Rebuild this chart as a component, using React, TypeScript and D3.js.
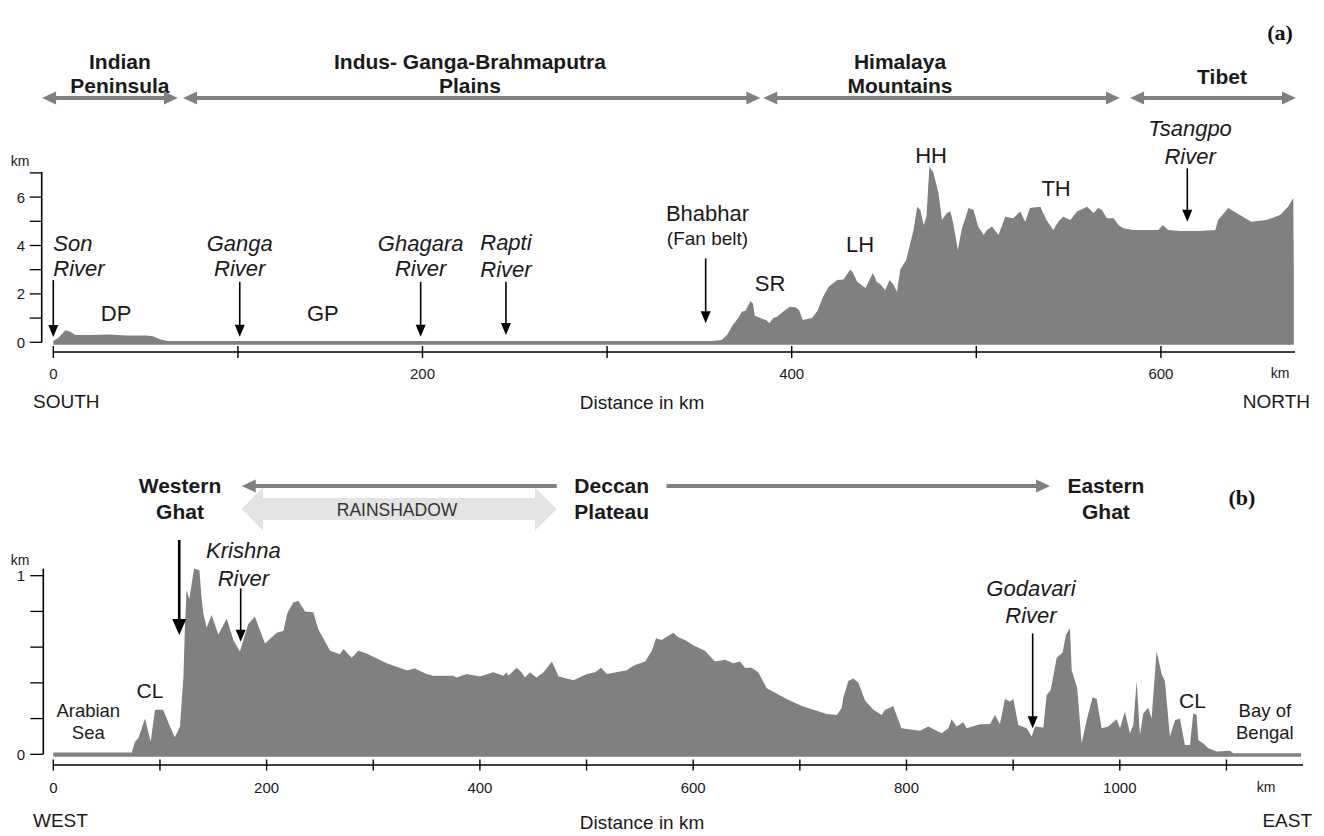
import React from "react";
import * as d3 from "d3";

// ---------- Panel (a): South–North profile ----------
const topDistance = [0, 3, 6.5, 9, 12, 20, 30, 40, 50, 54, 58, 62, 100, 200, 300, 357, 362, 365, 368, 371, 373, 375, 377.6, 379, 380, 383, 386, 388, 390, 392, 396, 399, 402, 404, 406, 411, 414, 417, 420, 424.7, 428, 431.7, 433, 435.5, 440, 444, 446, 448, 450.7, 453, 455, 457, 458.8, 462, 466, 468, 469.7, 471.5, 473, 474.6, 476.8, 479.5, 481.4, 484, 486, 487.5, 490, 492, 495.8, 498.5, 501, 504, 505.8, 508.5, 512, 515.7, 520, 523.8, 526.5, 529, 534.7, 538, 541.7, 544.4, 547, 551, 554.5, 560, 563.5, 566, 568, 570.8, 574.4, 577, 579.7, 585, 592.4, 598.6, 601, 604, 610.5, 621, 629.5, 631, 636.5, 641, 649, 657, 664.6, 668.9, 671.7, 672];
const topElevation = [0.05, 0.2, 0.5, 0.45, 0.3, 0.3, 0.32, 0.28, 0.28, 0.25, 0.12, 0.05, 0.05, 0.05, 0.05, 0.05, 0.1, 0.3, 0.7, 1.0, 1.26, 1.3, 1.7, 1.6, 1.1, 1.0, 0.92, 0.8, 1.0, 1.06, 1.3, 1.47, 1.45, 1.33, 0.92, 1.0, 1.3, 1.88, 2.3, 2.57, 2.6, 3.0, 2.9, 2.5, 2.24, 2.86, 2.5, 2.4, 2.16, 2.57, 2.4, 2.09, 3.0, 3.4, 4.64, 5.6, 5.47, 4.85, 5.2, 7.26, 7.0, 6.17, 5.05, 5.34, 5.4, 4.92, 3.81, 4.64, 5.55, 5.47, 4.78, 4.43, 4.64, 4.78, 4.43, 5.19, 5.13, 5.4, 4.98, 5.55, 5.6, 5.05, 4.64, 4.98, 5.19, 5.05, 5.4, 5.6, 5.34, 5.55, 5.47, 5.13, 5.13, 4.85, 4.71, 4.64, 4.64, 4.64, 4.85, 4.64, 4.6, 4.6, 4.64, 5.05, 5.55, 5.34, 4.98, 5.05, 5.26, 5.6, 5.96, 3.0];
const topXTicks = [0, 100, 200, 300, 400, 500, 600];
const topXLabels = [0, 200, 400, 600];
const topYTicks = [0, 1, 2, 3, 4, 5, 6, 7];
const topYLabels = [0, 2, 4, 6];

// header regions (km positions along the top profile)
const topRegionNames = [["Indian", "Peninsula"], ["Indus- Ganga-Brahmaputra", "Plains"], ["Himalaya", "Mountains"], ["Tibet"]];
const topRegionCenters = [36.1, 225.7, 458.7, 633.1];
const topRegionStarts = [-6.1, 70.3, 384.6, 583.3];
const topRegionEnds = [67.5, 383, 577.8, 673.2];

// rivers / features with arrows
const topArrowKm = [0, 101, 199, 245.2, 353.4, 614.3];
const topArrowFrom = [2.57, 2.5, 2.5, 2.5, 3.47, 7.19];
const topArrowTo = [0.22, 0.23, 0.23, 0.3, 0.79, 4.98];

// ---------- Panel (b): West–East profile ----------
const botDistance = [0, 73.5, 76.6, 79.7, 86, 91.3, 95.4, 103, 109.4, 114, 118.8, 120.4, 122, 123.5, 125, 127.5, 132, 137, 139, 140.6, 143.8, 148.5, 154.8, 162.6, 168.8, 175, 182.8, 189, 198.5, 209.5, 215.7, 219.4, 225, 229.7, 236, 243.8, 248.5, 259.5, 268.8, 272, 279.8, 286, 293.8, 312.5, 331.3, 339, 350, 356.3, 375, 378.2, 387.6, 400, 412.6, 422, 425, 426.6, 434.5, 439, 442.3, 447, 453, 459.7, 467.5, 473.8, 487.8, 500.3, 508, 513.7, 519, 537.8, 542.4, 545.5, 555, 561.2, 565.2, 570.4, 581.4, 586, 592.3, 600, 611, 620.4, 629.8, 637.6, 643.9, 648.6, 654.8, 661, 669, 687.7, 701.8, 725.2, 734.6, 739.3, 740.8, 745.5, 750.2, 754.9, 761.2, 769, 776.8, 779.9, 784.6, 787.5, 795.3, 812.6, 820.4, 833, 839.2, 842.3, 847, 853.3, 856.4, 868.9, 878.3, 883, 887.6, 892.3, 897, 900.2, 904.8, 912.7, 917.4, 920.5, 928.3, 931.4, 935.2, 937.6, 940.8, 946.4, 949.5, 953.3, 954.9, 960.1, 964.2, 968.9, 974.5, 978.3, 983, 989.2, 997, 1000.2, 1004.8, 1009.5, 1012.6, 1015.8, 1018.9, 1022, 1026.7, 1029.8, 1034.5, 1039.2, 1042.3, 1047, 1051.7, 1056.4, 1061, 1065.8, 1068.9, 1072, 1073.6, 1078.3, 1083, 1090.8, 1103.3, 1106.4, 1170];
const botElevation = [0.01, 0.01, 0.07, 0.09, 0.2, 0.07, 0.25, 0.25, 0.155, 0.095, 0.155, 0.3, 0.43, 0.73, 0.92, 0.87, 1.04, 1.03, 0.88, 0.79, 0.71, 0.78, 0.67, 0.76, 0.64, 0.575, 0.73, 0.77, 0.62, 0.68, 0.69, 0.79, 0.85, 0.86, 0.8, 0.795, 0.7, 0.58, 0.56, 0.59, 0.54, 0.58, 0.565, 0.51, 0.47, 0.48, 0.45, 0.44, 0.44, 0.43, 0.45, 0.435, 0.46, 0.44, 0.46, 0.44, 0.485, 0.46, 0.43, 0.46, 0.43, 0.46, 0.52, 0.435, 0.415, 0.45, 0.46, 0.485, 0.45, 0.47, 0.49, 0.5, 0.52, 0.58, 0.65, 0.64, 0.68, 0.655, 0.64, 0.61, 0.58, 0.52, 0.53, 0.51, 0.52, 0.485, 0.485, 0.46, 0.37, 0.31, 0.27, 0.226, 0.22, 0.26, 0.32, 0.41, 0.425, 0.4, 0.3, 0.25, 0.22, 0.25, 0.26, 0.27, 0.146, 0.132, 0.155, 0.118, 0.146, 0.196, 0.155, 0.18, 0.146, 0.168, 0.17, 0.22, 0.17, 0.31, 0.295, 0.31, 0.164, 0.146, 0.1, 0.155, 0.15, 0.33, 0.36, 0.435, 0.54, 0.57, 0.67, 0.705, 0.47, 0.37, 0.06, 0.19, 0.32, 0.31, 0.146, 0.155, 0.196, 0.146, 0.24, 0.118, 0.164, 0.41, 0.108, 0.23, 0.26, 0.2, 0.58, 0.45, 0.41, 0.1, 0.19, 0.2, 0.052, 0.052, 0.23, 0.22, 0.08, 0.06, 0.034, 0.015, 0.02, 0.006, 0.006];
const botXTicks = [0, 100, 200, 300, 400, 500, 600, 700, 800, 900, 1000, 1100];
const botXLabels = [0, 200, 400, 600, 800, 1000];
const botYTicks = [0, 0.2, 0.4, 0.6, 0.8, 1];
const botYLabels = [0, 1];

const botRegionNames = [["Western", "Ghat"], ["Deccan", "Plateau"], ["Eastern", "Ghat"]];
const botRegionCenters = [118.8, 523.6, 987];

const botArrowKm = [175.7, 918.3];
const botArrowFrom = [0.929, 0.677];
const botArrowTo = [0.63, 0.146];

const FONT = "'Liberation Sans', Arial, Helvetica, sans-serif";
const SERIF = "'Liberation Serif', 'Times New Roman', serif";
const GRAY = "#808080";
const TXT = "#1a1a1a";

function hArrowHead(x: number, y: number, dir: number, len: number, hw: number) {
  return `${x},${y} ${x - dir * len},${y - hw} ${x - dir * len},${y + hw}`;
}

function DownArrow({ x, y1, y2, w = 1.6, len = 12, hw = 5 }: { x: number; y1: number; y2: number; w?: number; len?: number; hw?: number }) {
  return (
    <g>
      <line x1={x} x2={x} y1={y1} y2={y2 - len + 1} stroke="#000" strokeWidth={w} />
      <polygon points={`${x},${y2} ${x - hw},${y2 - len} ${x + hw},${y2 - len}`} fill="#000" />
    </g>
  );
}

function MultiText({ x, y, lines, size, anchor = "middle", italic = false, bold = false, gap = 27, fill = TXT, family = FONT }: any) {
  return (
    <text x={x} y={y} fontSize={size} textAnchor={anchor} fontStyle={italic ? "italic" : "normal"} fontWeight={bold ? "bold" : "normal"} fill={fill} fontFamily={family} dominantBaseline="central">
      {lines.map((l: string, i: number) => (
        <tspan key={i} x={x} dy={i === 0 ? 0 : gap}>{l}</tspan>
      ))}
    </text>
  );
}

export default function App() {
  const xTop = d3.scaleLinear().domain([0, 672]).range([53.3, 53.3 + 672 * 1.846]);
  const yTop = d3.scaleLinear().domain([0, 7]).range([342.3, 342.3 - 7 * 24.2]);
  const xBot = d3.scaleLinear().domain([0, 1170]).range([53.3, 53.3 + 1170 * 1.0665]);
  const yBot = d3.scaleLinear().domain([0, 1]).range([754.3, 575.7]);

  const topData = topDistance.map((d, i) => [d, topElevation[i]] as [number, number]);
  const botData = botDistance.map((d, i) => [d, botElevation[i]] as [number, number]);

  const areaTop = d3.area<[number, number]>().x((d) => xTop(d[0])).y0(yTop(0) + 2.5).y1((d) => yTop(d[1]));
  const areaBot = d3.area<[number, number]>().x((d) => xBot(d[0])).y0(yBot(0) + 2.5).y1((d) => yBot(d[1]));

  const topAxisY = 352;
  const botAxisY = 765;
  const topYAxisX = 41.7;
  const botYAxisX = 43.3;
  const headerArrowY = 98;

  return (
    <svg width={1324} height={836} style={{ position: "absolute", left: 0, top: 0, background: "#fff" }} fontFamily={FONT}>
      <rect width={1324} height={836} fill="#fff" />

      {/* ================= PANEL (a) ================= */}
      <text x={1280} y={32} fontFamily={SERIF} fontWeight="bold" fontSize={22} textAnchor="middle" dominantBaseline="central" fill="#111">(a)</text>

      {topRegionNames.map((lines, i) => (
        <MultiText key={"tr" + i} x={xTop(topRegionCenters[i])} y={lines.length === 1 ? 76 : 61} lines={lines} size={21} bold gap={24} />
      ))}
      {topRegionStarts.map((s, i) => {
        const x1 = xTop(s);
        const x2 = xTop(topRegionEnds[i]);
        return (
          <g key={"ta" + i}>
            <line x1={x1 + 12} x2={x2 - 12} y1={headerArrowY} y2={headerArrowY} stroke={GRAY} strokeWidth={4} />
            <polygon points={hArrowHead(x1, headerArrowY, -1, 14, 6.5)} fill={GRAY} />
            <polygon points={hArrowHead(x2, headerArrowY, 1, 14, 6.5)} fill={GRAY} />
          </g>
        );
      })}

      <path d={areaTop(topData) || ""} fill={GRAY} />

      <line x1={topYAxisX} x2={topYAxisX} y1={yTop(0)} y2={yTop(7) - 1} stroke="#000" strokeWidth={1.6} />
      {topYTicks.map((t) => (
        <line key={"tyt" + t} x1={topYAxisX - 12} x2={topYAxisX} y1={yTop(t)} y2={yTop(t)} stroke="#000" strokeWidth={1.3} />
      ))}
      {topYLabels.map((t) => (
        <text key={"tyl" + t} x={25} y={yTop(t)} fontSize={15} textAnchor="end" dominantBaseline="central" fill={TXT}>{t}</text>
      ))}
      <text x={20} y={161} fontSize={14} textAnchor="middle" dominantBaseline="central" fill={TXT}>km</text>

      <line x1={xTop(0)} x2={1295} y1={topAxisY} y2={topAxisY} stroke="#000" strokeWidth={1.6} />
      {topXTicks.map((t) => (
        <line key={"txt" + t} x1={xTop(t)} x2={xTop(t)} y1={topAxisY - 6} y2={topAxisY + 6} stroke="#000" strokeWidth={1.4} />
      ))}
      {topXLabels.map((t) => (
        <text key={"txl" + t} x={xTop(t)} y={373} fontSize={15} textAnchor="middle" dominantBaseline="central" fill={TXT}>{t}</text>
      ))}
      <text x={1280} y={373} fontSize={14} textAnchor="middle" dominantBaseline="central" fill={TXT}>km</text>
      <text x={33} y={401} fontSize={19} textAnchor="start" dominantBaseline="central" fill={TXT}>SOUTH</text>
      <text x={642} y={402} fontSize={19} textAnchor="middle" dominantBaseline="central" fill={TXT}>Distance in km</text>
      <text x={1310} y={401} fontSize={19} textAnchor="end" dominantBaseline="central" fill={TXT}>NORTH</text>

      <MultiText x={xTop(0)} y={yTop(4.1)} lines={["Son", "River"]} size={22} italic anchor="start" gap={25} />
      <MultiText x={xTop(101)} y={yTop(4.1)} lines={["Ganga", "River"]} size={22} italic gap={25} />
      <MultiText x={xTop(199)} y={yTop(4.1)} lines={["Ghagara", "River"]} size={22} italic gap={25} />
      <MultiText x={xTop(245.2)} y={yTop(4.15)} lines={["Rapti", "River"]} size={22} italic gap={27} />
      <MultiText x={xTop(615.8)} y={yTop(8.84)} lines={["Tsangpo", "River"]} size={22} italic gap={28} />
      <MultiText x={xTop(354.4)} y={yTop(5.34)} lines={["Bhabhar"]} size={22} />
      <MultiText x={xTop(354.4)} y={yTop(4.3)} lines={["(Fan belt)"]} size={19} />
      <MultiText x={xTop(34)} y={yTop(1.2)} lines={["DP"]} size={22} />
      <MultiText x={xTop(146)} y={yTop(1.2)} lines={["GP"]} size={22} />
      <MultiText x={xTop(388.3)} y={yTop(2.44)} lines={["SR"]} size={22} />
      <MultiText x={xTop(437)} y={yTop(4.06)} lines={["LH"]} size={22} />
      <MultiText x={xTop(475.5)} y={yTop(7.74)} lines={["HH"]} size={22} />
      <MultiText x={xTop(543.2)} y={yTop(6.36)} lines={["TH"]} size={22} />
      {topArrowKm.map((k, i) => (
        <DownArrow key={"tarr" + i} x={xTop(k)} y1={yTop(topArrowFrom[i])} y2={yTop(topArrowTo[i])} />
      ))}

      {/* ================= PANEL (b) ================= */}
      <text x={1242} y={497} fontFamily={SERIF} fontWeight="bold" fontSize={22} textAnchor="middle" dominantBaseline="central" fill="#111">(b)</text>
      {botRegionNames.map((lines, i) => (
        <MultiText key={"br" + i} x={xBot(botRegionCenters[i])} y={485} lines={lines} size={21} bold gap={26} />
      ))}

      {(() => {
        const xa = xBot(176.7), xb = xBot(196.6), xc = xBot(451.7), xd = xBot(472);
        const cy = 509, bh = 11, hh = 21.5;
        const pts = [
          [xa, cy], [xb, cy - hh], [xb, cy - bh], [xc, cy - bh], [xc, cy - hh], [xd, cy],
          [xc, cy + hh], [xc, cy + bh], [xb, cy + bh], [xb, cy + hh],
        ].map((p) => p.join(",")).join(" ");
        return <polygon points={pts} fill="#e3e3e3" />;
      })()}
      <text x={xBot(322.3)} y={510} fontSize={17.5} textAnchor="middle" dominantBaseline="central" fill="#333">RAINSHADOW</text>

      <line x1={xBot(176.7) + 12} x2={xBot(472)} y1={486} y2={486} stroke={GRAY} strokeWidth={4} />
      <polygon points={hArrowHead(xBot(176.7), 486, -1, 14, 6.5)} fill={GRAY} />
      <line x1={xBot(575)} x2={xBot(934.6) - 12} y1={486} y2={486} stroke={GRAY} strokeWidth={4} />
      <polygon points={hArrowHead(xBot(934.6), 486, 1, 14, 6.5)} fill={GRAY} />

      <path d={areaBot(botData) || ""} fill={GRAY} />

      <line x1={botYAxisX} x2={botYAxisX} y1={yBot(0)} y2={yBot(1.04)} stroke="#000" strokeWidth={1.6} />
      {botYTicks.map((t) => (
        <line key={"byt" + t} x1={botYAxisX - 13} x2={botYAxisX} y1={yBot(t)} y2={yBot(t)} stroke="#000" strokeWidth={1.3} />
      ))}
      {botYLabels.map((t) => (
        <text key={"byl" + t} x={25} y={yBot(t)} fontSize={15} textAnchor="end" dominantBaseline="central" fill={TXT}>{t}</text>
      ))}
      <text x={20} y={560} fontSize={14} textAnchor="middle" dominantBaseline="central" fill={TXT}>km</text>

      <line x1={xBot(0)} x2={1303} y1={botAxisY} y2={botAxisY} stroke="#000" strokeWidth={1.6} />
      {botXTicks.map((t) => (
        <line key={"bxt" + t} x1={xBot(t)} x2={xBot(t)} y1={botAxisY - 5.5} y2={botAxisY + 5.5} stroke="#000" strokeWidth={1.4} />
      ))}
      {botXLabels.map((t) => (
        <text key={"bxl" + t} x={xBot(t)} y={787} fontSize={15} textAnchor="middle" dominantBaseline="central" fill={TXT}>{t}</text>
      ))}
      <text x={1266} y={787} fontSize={14} textAnchor="middle" dominantBaseline="central" fill={TXT}>km</text>
      <text x={33} y={820} fontSize={19} textAnchor="start" dominantBaseline="central" fill={TXT}>WEST</text>
      <text x={642} y={822} fontSize={19} textAnchor="middle" dominantBaseline="central" fill={TXT}>Distance in km</text>
      <text x={1312} y={820} fontSize={19} textAnchor="end" dominantBaseline="central" fill={TXT}>EAST</text>

      <MultiText x={xBot(178.2)} y={yBot(1.144)} lines={["Krishna", "River"]} size={22} italic gap={28} />
      <MultiText x={xBot(916.7)} y={yBot(0.929)} lines={["Godavari", "River"]} size={22} italic gap={27} />
      <MultiText x={xBot(90.7)} y={yBot(0.36)} lines={["CL"]} size={21} />
      <MultiText x={xBot(1068.2)} y={yBot(0.304)} lines={["CL"]} size={21} />
      <MultiText x={xBot(32.8)} y={yBot(0.248)} lines={["Arabian", "Sea"]} size={18.5} gap={22} />
      <MultiText x={xBot(1136)} y={yBot(0.248)} lines={["Bay of", "Bengal"]} size={18.5} gap={22} />
      <DownArrow x={xBot(118.1)} y1={yBot(1.2)} y2={yBot(0.668)} w={2.6} len={16} hw={7} />
      {botArrowKm.map((k, i) => (
        <DownArrow key={"barr" + i} x={xBot(k)} y1={yBot(botArrowFrom[i])} y2={yBot(botArrowTo[i])} />
      ))}
    </svg>
  );
}
